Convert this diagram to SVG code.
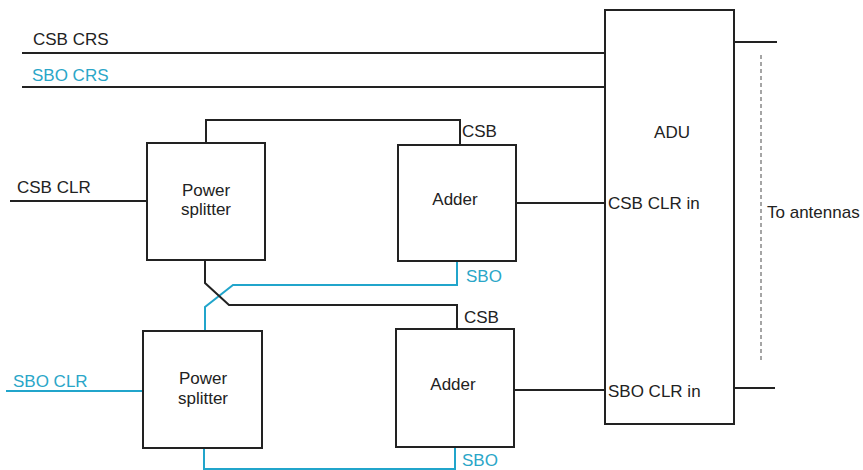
<svg xmlns="http://www.w3.org/2000/svg" width="863" height="470" viewBox="0 0 863 470">
<style>
.box{fill:#fff;stroke:#222;stroke-width:2}
.k{fill:none;stroke:#222;stroke-width:2}
.b{fill:none;stroke:#21a5cb;stroke-width:2}
.d{fill:none;stroke:#888;stroke-width:1.5;stroke-dasharray:4 3}
text{font-family:"Liberation Sans",Arial,sans-serif;font-size:17px;fill:#222}
.bt{fill:#2aa6c8}
.m{text-anchor:middle}
</style>
<rect width="863" height="470" fill="#fff"/>
<g id="connectors">
<line class="k" x1="22" y1="53" x2="605" y2="53"/>
<line class="k" x1="22" y1="87" x2="605" y2="87"/>
<line class="k" x1="10" y1="201" x2="147" y2="201"/>
<polyline class="k" points="206,143 206,120 460,120 460,145"/>
<line class="k" x1="516" y1="203" x2="605" y2="203"/>
<polyline class="b" points="457,261 457,285 233,285 205,307 205,331"/>
<polyline class="k" points="205,260 205,283 229,305 457,305 457,329"/>
<line class="b" x1="6" y1="391" x2="143" y2="391"/>
<polyline class="b" points="204,448 204,469 455,469 455,447"/>
<line class="k" x1="514" y1="390" x2="605" y2="390"/>
<line class="k" x1="734" y1="42" x2="777" y2="42"/>
<line class="k" x1="734" y1="388" x2="775" y2="388"/>
<line class="d" x1="761" y1="55" x2="761" y2="362"/>
</g>
<g id="adu">
<rect class="box" x="605" y="10" width="129" height="414"/>
<text class="m" x="672" y="138">ADU</text>
<text x="608" y="209">CSB CLR in</text>
<text x="608" y="397">SBO CLR in</text>
</g>
<g id="splitter1">
<rect class="box" x="147" y="143" width="118" height="117"/>
<text class="m" x="206" y="196">Power</text>
<text class="m" x="206" y="215">splitter</text>
</g>
<g id="adder1">
<rect class="box" x="398" y="145" width="118" height="116"/>
<text class="m" x="455" y="205">Adder</text>
</g>
<g id="splitter2">
<rect class="box" x="143" y="331" width="119" height="117"/>
<text class="m" x="203" y="384">Power</text>
<text class="m" x="203" y="404">splitter</text>
</g>
<g id="adder2">
<rect class="box" x="396" y="329" width="118" height="118"/>
<text class="m" x="453" y="390">Adder</text>
</g>
<g id="labels">
<text x="33" y="45">CSB CRS</text>
<text class="bt" x="32" y="81">SBO CRS</text>
<text x="17" y="193">CSB CLR</text>
<text class="bt" x="13" y="387">SBO CLR</text>
<text x="462" y="137">CSB</text>
<text class="bt" x="466" y="282">SBO</text>
<text x="464" y="323">CSB</text>
<text class="bt" x="462" y="466">SBO</text>
<text x="767" y="218">To antennas</text>
</g>
</svg>
